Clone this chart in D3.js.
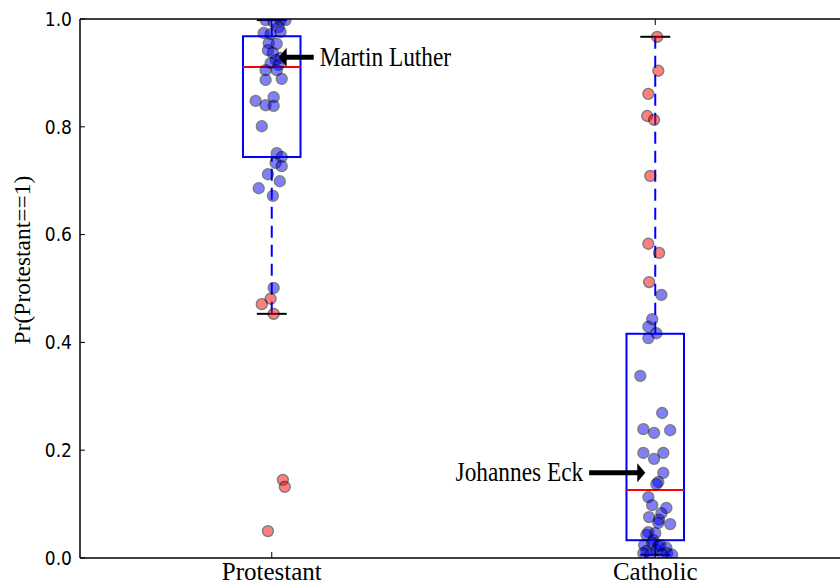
<!DOCTYPE html>
<html>
<head>
<meta charset="utf-8">
<script src="https://cdn.jsdelivr.net/npm/d3@7"></script>
<style>
  body { margin: 0; background: #fff; }
</style>
</head>
<body>
<div id="viz"></div>
<script>
const width = 840;
const height = 586;
const plot = {left: 80, top: 19, bottom: 558, right: 847};

// Categories and tick labels
const groups = ['Protestant', 'Catholic'];
const yTicks = [0.0, 0.2, 0.4, 0.6, 0.8, 1.0];

// Predicted Pr(Protestant==1)
const protestantValues = [0.998, 0.994, 0.998, 0.998, 0.985, 0.974, 0.972, 0.976, 0.955, 0.954,
  0.942, 0.937, 0.928, 0.924, 0.918, 0.915, 0.905, 0.905, 0.887, 0.889,
  0.848, 0.855, 0.840, 0.839, 0.801, 0.751, 0.744, 0.733, 0.727, 0.712,
  0.699, 0.686, 0.672, 0.501, 0.481, 0.471, 0.453, 0.145, 0.132, 0.050];
// horizontal jitter of each point (category units)
const protestantJitter = [-0.016, 0.005, 0.023, 0.036, 0.018, -0.021, -0.003, 0.023, -0.008, 0.013,
  -0.010, 0.003, 0.023, 0.010, -0.003, 0.018, -0.016, 0.013, -0.016, 0.026,
  -0.042, 0.005, -0.016, 0.005, -0.026, 0.013, 0.026, 0.010, 0.026, -0.010,
  0.021, -0.034, 0.003, 0.005, -0.003, -0.026, 0.005, 0.029, 0.034, -0.010];

const catholicValues = [0.967, 0.904, 0.861, 0.820, 0.813, 0.709, 0.583, 0.566, 0.512, 0.488,
  0.443, 0.429, 0.417, 0.408, 0.338, 0.269, 0.239, 0.232, 0.237, 0.195,
  0.184, 0.195, 0.158, 0.141, 0.137, 0.113, 0.098, 0.093, 0.083, 0.076,
  0.071, 0.065, 0.063, 0.048, 0.046, 0.043, 0.033, 0.024, 0.028, 0.022,
  0.019, 0.013, 0.015, 0.009, 0.006, 0.009, 0.006, 0.024, 0.007];
const catholicJitter = [0.005, 0.008, -0.018, -0.021, -0.003, -0.013, -0.018, 0.010, -0.016, 0.016,
  -0.008, -0.018, 0.003, -0.018, -0.039, 0.018, -0.031, -0.003, 0.039, -0.031,
  -0.003, 0.021, 0.021, 0.008, 0.003, -0.018, -0.008, 0.029, 0.016, -0.016,
  0.010, 0.008, 0.039, -0.018, 0.000, -0.023, -0.005, -0.029, -0.008, 0.008,
  0.029, -0.023, 0.003, 0.031, 0.044, -0.031, -0.013, 0.013, 0.018];

// Box plot stats: [whisker low, q1, median, q3, whisker high]
const protestantBox = [0.453, 0.744, 0.911, 0.968, 0.998];
const catholicBox = [0.006, 0.033, 0.126, 0.416, 0.967];

// Annotations: label, arrow tip [x, y], text anchor [x, y] (data units)
const annotations = [
  {label: 'Martin Luther', tip: [1.018, 0.929], text: [1.125, 0.929], anchor: 'start'},
  {label: 'Johannes Eck', tip: [1.974, 0.158], text: [1.812, 0.158], anchor: 'end'}
];

const boxWidth = 0.15;
const capWidth = 0.078;
const blue = '#0000ff';

const xScale = d3.scaleLinear().domain([0.5, 2.5]).range([plot.left, plot.right]);
const yScale = d3.scaleLinear().domain([0, 1]).range([plot.bottom, plot.top]);

const svg = d3.select('#viz')
  .append('svg')
    .attr('width', width)
    .attr('height', height)
    .attr('viewBox', [0, 0, width, height]);

svg.append('defs').append('clipPath')
    .attr('id', 'plot-clip')
  .append('rect')
    .attr('x', plot.left)
    .attr('y', plot.top)
    .attr('width', plot.right - plot.left)
    .attr('height', plot.bottom - plot.top);

const boxes = [protestantBox, catholicBox];
const boxG = svg.append('g').attr('clip-path', 'url(#plot-clip)');

boxes.forEach((b, i) => {
  const cx = i + 1;
  const g = boxG.append('g');
  // whiskers
  [[b[0], b[1]], [b[3], b[4]]].forEach(w => {
    g.append('line')
      .attr('x1', xScale(cx)).attr('x2', xScale(cx))
      .attr('y1', yScale(w[0])).attr('y2', yScale(w[1]))
      .attr('stroke', blue)
      .attr('stroke-width', 2)
      .attr('stroke-dasharray', '12,7');
  });
  // caps
  [b[0], b[4]].forEach(v => {
    g.append('line')
      .attr('x1', xScale(cx - capWidth / 2)).attr('x2', xScale(cx + capWidth / 2))
      .attr('y1', yScale(v)).attr('y2', yScale(v))
      .attr('stroke', '#000')
      .attr('stroke-width', 2);
  });
  g.append('rect')
    .attr('x', xScale(cx - boxWidth / 2))
    .attr('y', yScale(b[3]))
    .attr('width', xScale(cx + boxWidth / 2) - xScale(cx - boxWidth / 2))
    .attr('height', yScale(b[1]) - yScale(b[3]))
    .attr('fill', 'none')
    .attr('stroke', blue)
    .attr('stroke-width', 2);
  g.append('line')
    .attr('x1', xScale(cx - boxWidth / 2)).attr('x2', xScale(cx + boxWidth / 2))
    .attr('y1', yScale(b[2])).attr('y2', yScale(b[2]))
    .attr('stroke', '#ff0000')
    .attr('stroke-width', 2);
});

// points
const points = [];
protestantValues.forEach((v, i) => points.push({group: 1, value: v, jitter: protestantJitter[i], correct: v >= 0.5}));
catholicValues.forEach((v, i) => points.push({group: 2, value: v, jitter: catholicJitter[i], correct: v < 0.5}));

svg.append('g')
    .attr('clip-path', 'url(#plot-clip)')
  .selectAll('circle')
  .data(points)
  .join('circle')
    .attr('cx', d => xScale(d.group + d.jitter))
    .attr('cy', d => yScale(d.value))
    .attr('r', 5.4)
    .attr('fill', d => d.correct ? blue : '#ff0000')
    .attr('stroke', '#000')
    .attr('stroke-width', 1.5)
    .attr('opacity', 0.5);

// axes frame
const frame = svg.append('g').attr('stroke', '#000').attr('stroke-width', 1.5);
frame.append('line').attr('x1', plot.left).attr('x2', width).attr('y1', plot.top).attr('y2', plot.top);
frame.append('line').attr('x1', plot.left).attr('x2', width).attr('y1', plot.bottom).attr('y2', plot.bottom);
frame.append('line').attr('x1', plot.left).attr('x2', plot.left).attr('y1', plot.top).attr('y2', plot.bottom);

// y ticks (inward)
const yAxis = svg.append('g');
yTicks.forEach(t => {
  yAxis.append('line')
    .attr('x1', plot.left).attr('x2', plot.left + 5)
    .attr('y1', yScale(t)).attr('y2', yScale(t))
    .attr('stroke', '#000');
  yAxis.append('text')
    .attr('transform', `translate(${plot.left - 8}, ${yScale(t)}) scale(0.9, 1)`)
    .attr('dy', '0.36em')
    .attr('text-anchor', 'end')
    .attr('font-family', 'DejaVu Sans')
    .attr('font-size', 19)
    .text(d3.format('.1f')(t));
});

// x ticks (inward, bottom and top)
const xAxis = svg.append('g');
groups.forEach((name, i) => {
  const x = xScale(i + 1);
  xAxis.append('line')
    .attr('x1', x).attr('x2', x)
    .attr('y1', plot.bottom).attr('y2', plot.bottom - 6)
    .attr('stroke', '#000');
  xAxis.append('line')
    .attr('x1', x).attr('x2', x)
    .attr('y1', plot.top).attr('y2', plot.top + 6)
    .attr('stroke', '#000');
  xAxis.append('text')
    .attr('x', x)
    .attr('y', 580)
    .attr('text-anchor', 'middle')
    .attr('font-family', 'Liberation Serif')
    .attr('font-size', 25)
    .text(name);
});

svg.append('text')
  .attr('transform', `translate(30, 260) rotate(-90)`)
  .attr('text-anchor', 'middle')
  .attr('font-family', 'Liberation Serif')
  .attr('font-size', 23.5)
  .text('Pr(Protestant==1)');

// annotations with thick black arrows
annotations.forEach(a => {
  const tx = xScale(a.tip[0]);
  const ty = yScale(a.tip[1]);
  const dir = a.anchor === 'start' ? 1 : -1;
  const tail = xScale(a.text[0]) - dir * 6;
  const headLen = 8;
  const headHalf = 9.5;
  const shaft = 2.5;
  const base = tx + dir * headLen;
  const path = d3.path();
  path.moveTo(tx, ty);
  path.lineTo(base, ty - headHalf);
  path.lineTo(base, ty - shaft);
  path.lineTo(tail, ty - shaft);
  path.lineTo(tail, ty + shaft);
  path.lineTo(base, ty + shaft);
  path.lineTo(base, ty + headHalf);
  path.closePath();
  svg.append('path')
    .attr('d', path.toString())
    .attr('fill', '#000');
  svg.append('text')
    .attr('transform', `translate(${xScale(a.text[0])}, ${yScale(a.text[1])}) scale(0.88, 1)`)
    .attr('dy', '0.32em')
    .attr('text-anchor', a.anchor)
    .attr('font-family', 'Liberation Serif')
    .attr('font-size', 26.5)
    .text(a.label);
});
</script>
</body>
</html>
